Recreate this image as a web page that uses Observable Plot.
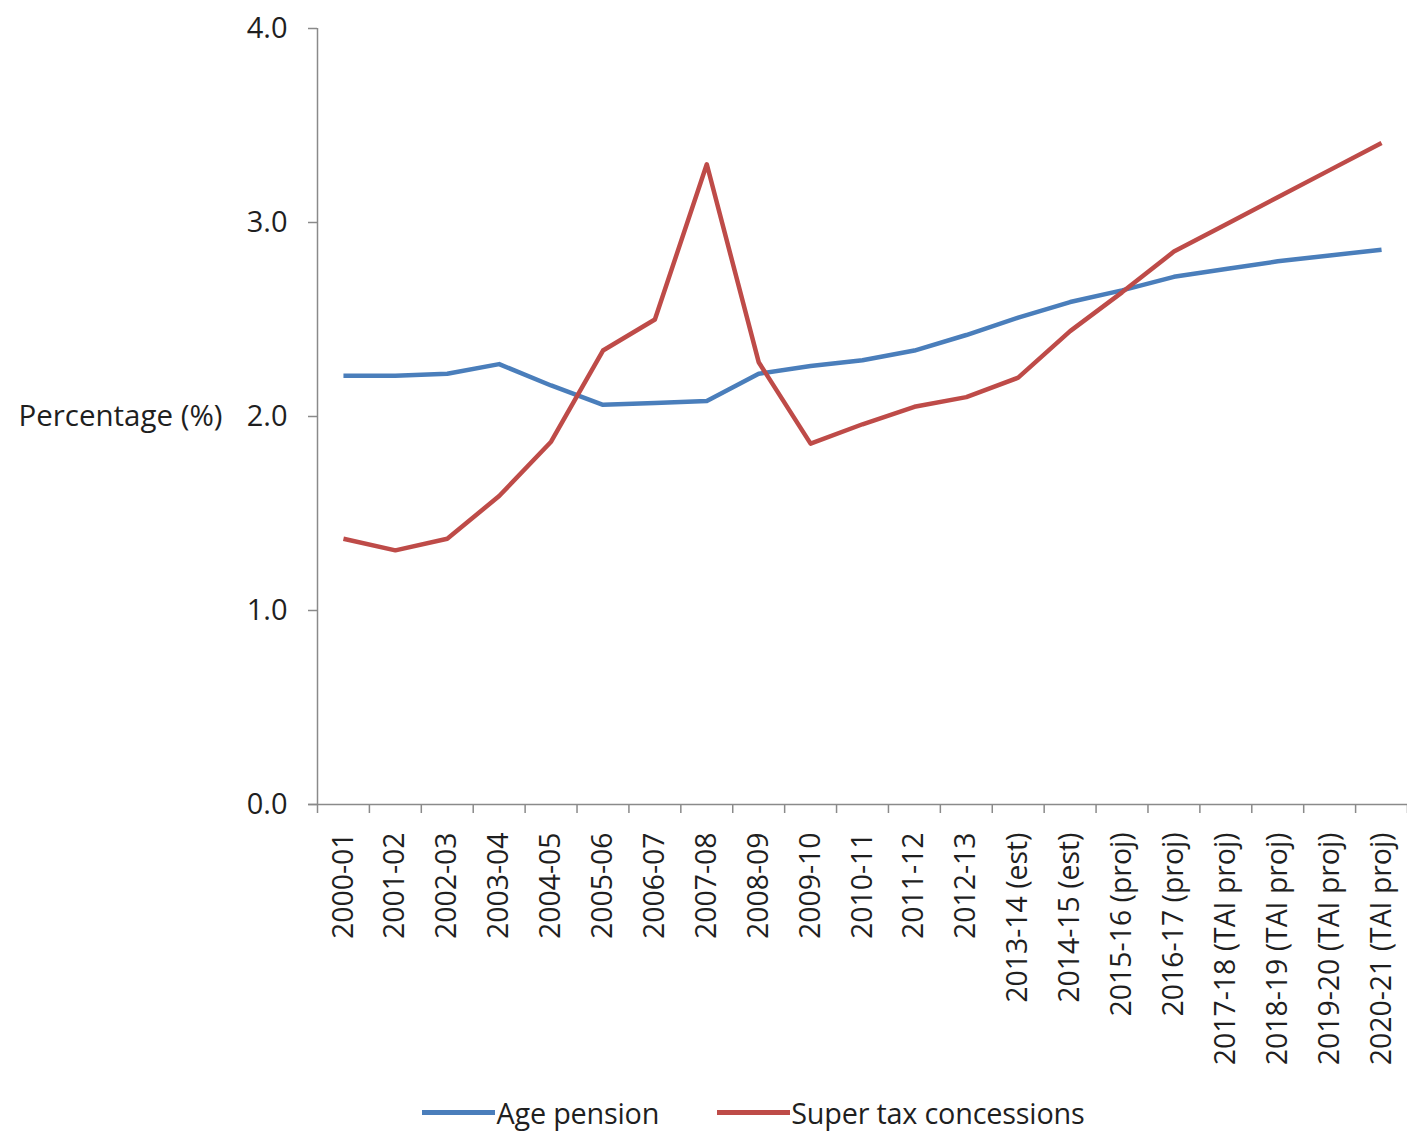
<!DOCTYPE html>
<html>
<head>
<meta charset="utf-8">
<script src="https://cdn.jsdelivr.net/npm/d3@7"></script>
<script src="https://cdn.jsdelivr.net/npm/@observablehq/plot@0.6"></script>
<style>
  html, body { margin: 0; padding: 0; background: #fff; }
  body { width: 1407px; font-family: "Open Sans", Lato, sans-serif; color: #1f1f1f; }
  #chart svg { display: block; overflow: visible; }
  .legend { display: flex; justify-content: center; align-items: center; gap: 58px; font-size: 28.8px; margin-top: 8px; padding-left: 100px; letter-spacing: -0.2px; }
  .legend .item { display: flex; align-items: center; }
  .legend .swatch { display: inline-block; width: 73px; height: 5px; margin-right: 1px; }
</style>
</head>
<body>
<div id="chart"></div>
<div class="legend" id="legend"></div>
<script>
// Financial years, including estimates and projections
const years = [
  "2000-01", "2001-02", "2002-03", "2003-04", "2004-05", "2005-06", "2006-07",
  "2007-08", "2008-09", "2009-10", "2010-11", "2011-12", "2012-13",
  "2013-14 (est)", "2014-15 (est)", "2015-16 (proj)", "2016-17 (proj)",
  "2017-18 (TAI proj)", "2018-19 (TAI proj)", "2019-20 (TAI proj)", "2020-21 (TAI proj)"
];

// Cost as a percentage (%) of GDP
const agePension = [
  2.21, 2.21, 2.22, 2.27, 2.16, 2.06, 2.07, 2.08, 2.22, 2.26, 2.29,
  2.34, 2.42, 2.51, 2.59, 2.65, 2.72, 2.76, 2.80, 2.83, 2.86
];
const superTax = [
  1.37, 1.31, 1.37, 1.59, 1.87, 2.34, 2.50, 3.30, 2.28, 1.86, 1.96,
  2.05, 2.10, 2.20, 2.44, 2.64, 2.85, 2.99, 3.13, 3.27, 3.41
];

const seriesNames = ["Age pension", "Super tax concessions"];
const seriesColors = ["#4a7ebb", "#be4b48"];
const yTicks = [0, 1, 2, 3, 4];

const rows = [];
years.forEach((yr, i) => {
  rows.push({series: seriesNames[0], idx: i + 0.5, year: yr, value: agePension[i]});
  rows.push({series: seriesNames[1], idx: i + 0.5, year: yr, value: superTax[i]});
});

const axisColor = "#8a8a8a";
const font = "'Open Sans', Lato, sans-serif";
const textColor = "#1f1f1f";

const chart = Plot.plot({
  width: 1407,
  height: 1085,
  marginLeft: 317,
  marginRight: 0,
  marginTop: 28,
  marginBottom: 281,
  style: {fontFamily: font, fontSize: "28px", color: textColor, background: "#fff"},
  x: {type: "linear", domain: [0, years.length], axis: null},
  y: {domain: [0, 4], axis: null},
  color: {domain: seriesNames, range: seriesColors},
  marks: [
    // y axis: ticks, labels and line
    Plot.axisY({
      ticks: yTicks, tickFormat: d3.format(".1f"), tickSize: 9, tickPadding: 21,
      stroke: axisColor, strokeWidth: 1.5, fontSize: 29, label: null
    }),
    Plot.ruleX([0], {stroke: axisColor, strokeWidth: 1.5}),
    // x axis: tick marks at the boundaries between years
    Plot.axisX({
      ticks: d3.range(0, years.length + 1), tickFormat: () => "", tickSize: 9,
      stroke: axisColor, strokeWidth: 1.5, label: null
    }),
    // year labels centred under each year
    Plot.axisX({
      ticks: years.map((_, i) => i + 0.5), tickFormat: d => years[Math.round(d - 0.5)],
      tickSize: 0, tickPadding: 28, tickRotate: -90, fontSize: 28.4, label: null
    }),
    Plot.ruleY([0], {stroke: axisColor, strokeWidth: 1.5, x1: -0.17, x2: years.length}),
    // horizontal y axis title beside the 2.0 tick
    Plot.text(["Percentage (%)"], {
      frameAnchor: "left", y: [2], dx: -95, textAnchor: "end", fontSize: 29.5, fill: textColor
    }),
    Plot.line(rows, {
      x: "idx", y: "value", z: "series", stroke: "series",
      strokeWidth: 4.5, strokeLinejoin: "round", strokeLinecap: "butt"
    })
  ]
});
document.getElementById("chart").appendChild(chart);

// Legend below the chart
const legend = document.getElementById("legend");
seriesNames.forEach((name, i) => {
  const item = document.createElement("div");
  item.className = "item";
  const sw = document.createElement("span");
  sw.className = "swatch";
  sw.style.background = seriesColors[i];
  const label = document.createElement("span");
  label.textContent = name;
  item.appendChild(sw);
  item.appendChild(label);
  legend.appendChild(item);
});
</script>
</body>
</html>
